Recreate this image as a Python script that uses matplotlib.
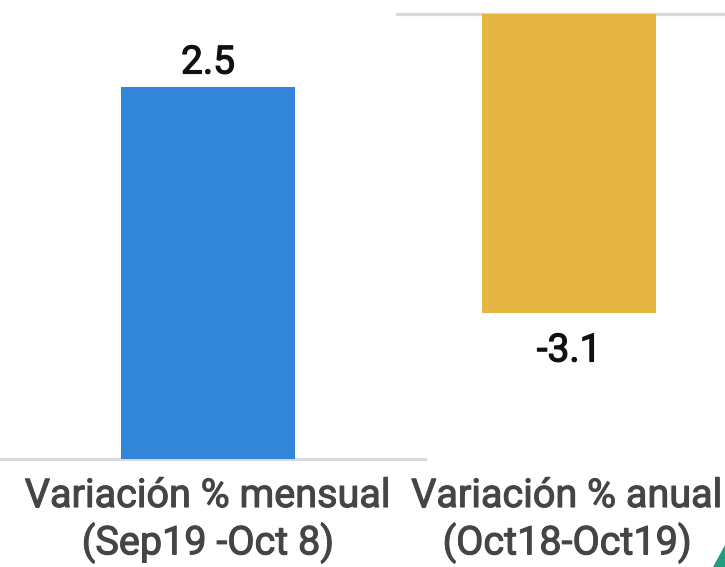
import matplotlib.pyplot as plt
import matplotlib.patheffects as pe
from matplotlib.patches import Polygon

plt.rcParams['font.family'] = ['Roboto', 'DejaVu Sans']

# Two indicators, each drawn on its own panel with its own scale
labels = ['Variación % mensual\n(Sep19 -Oct 8)', 'Variación % anual\n(Oct18-Oct19)']
values = [2.5, -3.1]
colors = ['#3186d9', '#e5b742']

W, H = 725, 567
fig = plt.figure(figsize=(W / 100, H / 100), dpi=100)

px_per_unit_x = 290  # bar width 0.6 -> 174 px
bar_w = 0.6


def medium(color, lw):
    # thicken the regular face a little to get a medium weight
    return [pe.Stroke(linewidth=lw, foreground=color), pe.Normal()]


def panel(x0, x1, ytop, ybot, cx):
    ax = fig.add_axes([x0 / W, 1 - ybot / H, (x1 - x0) / W, (ybot - ytop) / H])
    ax.set_xlim(-(cx - x0) / px_per_unit_x, (x1 - cx) / px_per_unit_x)
    ax.axis('off')
    return ax


# monthly change: baseline at the bottom
ax1 = panel(0, 425, 0, 458.5, 208)
ax1.set_ylim(0, values[0] * 458.5 / 371.5)
ax1.bar(0, values[0], width=bar_w, color=colors[0], zorder=2)
ax1.axhline(0, color='#d9d9d9', lw=2.3, zorder=1, clip_on=False)
ax1.annotate(f'{values[0]:g}', (0, values[0]), xytext=(0, 4), textcoords='offset points',
             ha='center', va='bottom', fontsize=28, color='#111111',
             path_effects=medium('#111111', 0.9))

# annual change: baseline at the top, bar hangs down
ax2 = panel(397, 725, 13.5, 458.5, 569)
ax2.set_ylim(values[1] * 445 / 299.5, 0)
ax2.bar(0, values[1], width=bar_w, color=colors[1], zorder=2)
ax2.axhline(0, color='#d9d9d9', lw=2.3, zorder=1, clip_on=False)
ax2.annotate(f'{values[1]:g}', (0, values[1]), xytext=(0, -14), textcoords='offset points',
             ha='center', va='top', fontsize=28, color='#111111',
             path_effects=medium('#111111', 0.9))

# category labels under the panels
for cx, lab in zip([208, 567], labels):
    fig.text(cx / W, 1 - 476 / H, lab, ha='center', va='top', fontsize=28.5,
             color='#454545', linespacing=1.2, path_effects=medium('#454545', 0.8))

# small corner mark
fig.patches.append(Polygon([[1.0, 0.0], [1.0, 22 / H], [(W - 12) / W, 0.0]],
                           closed=True, transform=fig.transFigure,
                           facecolor='#1f9d7e', edgecolor='none'))

fig.savefig('out.png', dpi=100)
